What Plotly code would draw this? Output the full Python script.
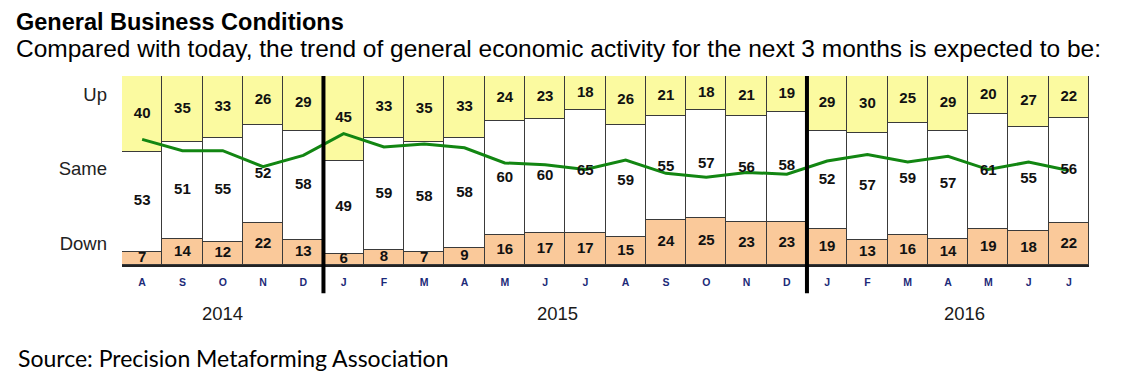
import plotly.graph_objects as go

months = ["A", "S", "O", "N", "D",
          "J", "F", "M", "A", "M", "J", "J", "A", "S", "O", "N", "D",
          "J", "F", "M", "A", "M", "J", "J"]
up = [40, 35, 33, 26, 29, 45, 33, 35, 33, 24, 23, 18, 26, 21, 18, 21, 19, 29, 30, 25, 29, 20, 27, 22]
same = [53, 51, 55, 52, 58, 49, 59, 58, 58, 60, 60, 65, 59, 55, 57, 56, 58, 52, 57, 59, 57, 61, 55, 56]
down = [7, 14, 12, 22, 13, 6, 8, 7, 9, 16, 17, 17, 15, 24, 25, 23, 23, 19, 13, 16, 14, 19, 18, 22]
index_line = [66.5, 60.5, 60.5, 52, 58, 69.5, 62.5, 64, 62, 54, 53, 50.5, 55.5, 48.5, 46.5, 49, 48,
              55, 58.5, 54.5, 57.5, 50.5, 54.5, 50]
years = ["2014", "2015", "2016"]
year_pos = [2, 10.3, 20.4]
year_breaks = [4.5, 16.5]
row_labels = ["Down", "Same", "Up"]
row_label_pos = [11.6, 51.3, 90]

x = list(range(len(months)))
border = dict(color="#3a3a3a", width=1.5)

fig = go.Figure()
fig.add_trace(go.Bar(x=x, y=down, marker=dict(color="#FAC99A", line=border), width=1, name="Down"))
fig.add_trace(go.Bar(x=x, y=same, marker=dict(color="#FFFFFF", line=border), width=1, name="Same"))
fig.add_trace(go.Bar(x=x, y=up, marker=dict(color="#FBFAA0", line=border), width=1, name="Up"))

fig.add_trace(go.Scatter(x=x, y=index_line, mode="lines",
                         line=dict(color="#128612", width=3), hoverinfo="skip"))

lab_font = dict(family="Liberation Sans, Arial", size=15, color="#111111")
mid_down = [d / 2 for d in down]
mid_same = [d + s / 2 for d, s in zip(down, same)]
mid_up = [d + s + u / 2 for d, s, u in zip(down, same, up)]
for mids, vals in [(mid_down, down), (mid_same, same), (mid_up, up)]:
    fig.add_trace(go.Scatter(x=x, y=mids, mode="text", text=[str(v) for v in vals],
                             textfont=lab_font, textposition="middle center",
                             texttemplate="<b>%{text}</b>", hoverinfo="skip"))

for xb in year_breaks:
    fig.add_shape(type="line", xref="x", yref="paper", x0=xb, x1=xb, y0=-0.15, y1=1.0,
                  line=dict(color="black", width=4))

for yname, yp in zip(years, year_pos):
    fig.add_annotation(x=yp, y=-0.254, xref="x", yref="paper", text=yname,
                       showarrow=False, font=dict(family="Liberation Sans, Arial", size=18.5, color="#1a1a1a"),
                       yanchor="middle")

fig.add_annotation(x=0, y=1, xref="paper", yref="paper", xshift=-108, yshift=54,
                   text="<b>General Business Conditions</b>", showarrow=False,
                   xanchor="left", yanchor="middle",
                   font=dict(family="Liberation Sans, Arial", size=23.5, color="black"))
fig.add_annotation(x=0, y=1, xref="paper", yref="paper", xshift=-108, yshift=28,
                   text="Compared with today, the trend of general economic activity for the next 3 months is expected to be:",
                   showarrow=False, xanchor="left", yanchor="middle",
                   font=dict(family="Liberation Sans, Arial", size=24.5, color="black"))
fig.add_annotation(x=0, y=0, xref="paper", yref="paper", xshift=-106, yshift=-93,
                   text="Source: Precision Metaforming Association", showarrow=False,
                   xanchor="left", yanchor="middle",
                   font=dict(family="Lato, Open Sans", size=23, color="black"))

# page body has an 8px margin; the figure is sized so the page fits the window
fig.update_layout(
    barmode="stack", bargap=0, showlegend=False,
    width=1119, height=372,
    margin=dict(l=114, r=38, t=68, b=115),
    paper_bgcolor="white", plot_bgcolor="white",
    xaxis=dict(range=[-0.5, len(months) - 0.5], tickvals=x,
               ticktext=[f"<b>{m}</b>" for m in months],
               tickfont=dict(family="Liberation Sans, Arial", size=10.5, color="#1c2a78"),
               showgrid=False, zeroline=False, showline=True, linecolor="#222", linewidth=2,
               ticks="", ticklen=0, ticklabelstandoff=6, fixedrange=True),
    yaxis=dict(range=[0, 100], tickvals=row_label_pos, ticktext=row_labels,
               tickfont=dict(family="Liberation Sans, Arial", size=18.5, color="#222"),
               showgrid=False, zeroline=False, showline=False, ticks="", ticklen=0,
               ticklabelstandoff=14, fixedrange=True),
)

fig.write_html("out.html")
